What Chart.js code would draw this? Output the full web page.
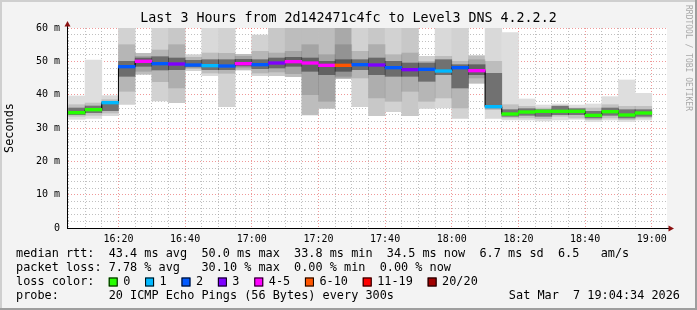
<!DOCTYPE html>
<html>
<head>
<meta charset="utf-8">
<script src="https://cdn.jsdelivr.net/npm/chart.js@4"></script>
<style>
  html, body { margin: 0; padding: 0; background: #f3f3f3; }
</style>
</head>
<body>
<canvas id="smoke" width="697" height="310"></canvas>
<script>
// 5-minute slots (start time of each bar)
const slots = ['16:05','16:10','16:15','16:20','16:25','16:30','16:35','16:40','16:45','16:50',
               '16:55','17:00','17:05','17:10','17:15','17:20','17:25','17:30','17:35','17:40',
               '17:45','17:50','17:55','18:00','18:05','18:10','18:15','18:20','18:25','18:30',
               '18:35','18:40','18:45','18:50','18:55'];
const slotLen = 5;
const rangeStart = '16:04:34';
const rangeEnd = '19:04:34';

// median rtt (ms)
const median = [34.6, 35.5, 37.6, 48.4, 50.0, 49.3, 49.2, 48.9, 48.7, 48.6,
                 49.3, 49.0, 49.5, 49.9, 49.5, 48.8, 48.8, 49.0, 48.9, 48.1,
                 47.5, 47.6, 47.1, 48.1, 47.2, 36.4, 34.2, 34.8, 35.0, 35.0,
                 35.0, 33.8, 34.9, 33.9, 34.5];

// loss colour bin per slot (index into lossLabels)
const lossBin = [0, 0, 1, 2, 4, 2, 3, 2, 1, 2,
                 4, 2, 3, 4, 4, 4, 5, 2, 3, 2,
                 3, 2, 1, 2, 4, 1, 0, 0, 0, 0,
                 0, 0, 0, 0, 0];

// smoke: outer (all pings), middle and inner bands (ms)
const outerLo = [32.6, 32.9, 33.7, 37.1, 46.1, 38.1, 37.6, 47.2, 45.7, 36.4,
                 47.4, 45.7, 45.7, 45.4, 33.9, 35.9, 44.9, 36.4, 33.7, 34.9,
                 33.7, 35.9, 36.0, 32.9, 43.4, 32.9, 32.4, 32.4, 32.1, 32.4,
                 32.6, 31.9, 32.4, 31.9, 32.4];
const outerHi = [39.6, 50.4, 39.7, 60.0, 52.4, 60.0, 60.0, 52.0, 60.0, 60.0,
                 52.1, 57.9, 60.0, 60.0, 60.0, 60.0, 60.0, 60.0, 60.0, 60.0,
                 60.0, 51.5, 60.0, 60.0, 51.7, 60.0, 58.6, 38.7, 36.9, 37.2,
                 36.9, 37.2, 39.4, 44.4, 40.4];
const midLo = [33.5, 33.8, 34.5, 41.0, 47.0, 43.9, 42.0, 47.8, 46.5, 46.4,
               48.0, 46.5, 46.8, 46.3, 40.0, 38.0, 45.5, 45.0, 39.0, 38.0,
               41.0, 38.0, 39.0, 36.0, 45.0, 35.5, 33.0, 33.0, 32.8, 33.5,
               33.0, 32.5, 33.0, 32.5, 33.0];
const midHi = [37.0, 37.5, 38.5, 55.0, 51.5, 53.4, 55.0, 51.2, 52.5, 52.4,
               51.5, 53.0, 52.5, 53.0, 55.0, 52.0, 55.0, 53.0, 55.0, 52.0,
               52.5, 50.0, 51.5, 50.0, 50.5, 50.0, 37.0, 36.5, 36.0, 36.8,
               36.0, 36.0, 37.0, 36.5, 36.5];
const innerLo = [34.0, 34.6, 35.2, 45.5, 48.5, 47.4, 47.5, 48.3, 47.5, 47.5,
                 48.6, 47.8, 48.0, 48.5, 47.0, 46.0, 47.0, 47.5, 46.0, 45.5,
                 45.5, 44.0, 46.0, 42.0, 46.0, 36.0, 33.5, 33.8, 33.5, 34.0,
                 34.0, 33.0, 33.8, 33.0, 33.5];
const innerHi = [36.0, 36.6, 37.8, 50.0, 51.0, 51.4, 51.0, 50.3, 50.5, 50.5,
                 50.6, 50.5, 51.0, 51.2, 51.0, 50.0, 50.5, 50.5, 51.0, 50.0,
                 49.5, 49.5, 50.5, 49.0, 49.0, 46.4, 35.5, 35.8, 35.5, 36.5,
                 35.8, 35.0, 36.0, 35.5, 35.5];

const lossLabels = ['0', '1', '2', '3', '4-5', '6-10', '11-19', '20/20'];
const lossColors = ['#26ff00', '#00b8ff', '#0059ff', '#7e00ff', '#ff00ff', '#ff5500', '#ff0000', '#a10000'];
const smokeShade = ['#dedede', '#d9d9d9', '#d2d2d2', '#c8c8c8', '#bdbdbd', '#a9a9a9'];

const xTickLabels = ['16:20', '16:40', '17:00', '17:20', '17:40', '18:00', '18:20', '18:40', '19:00'];
const yTickLabels = ['0', '10 m', '20 m', '30 m', '40 m', '50 m', '60 m'];

const legendLines = [
  'median rtt:  43.4 ms avg  50.0 ms max  33.8 ms min  34.5 ms now  6.7 ms sd  6.5   am/s',
  'packet loss: 7.78 % avg   30.10 % max  0.00 % min  0.00 % now',
  'loss color:',
  'probe:       20 ICMP Echo Pings (56 Bytes) every 300s'
];
const stamp = 'Sat Mar  7 19:04:34 2026';
const title = 'Last 3 Hours from 2d142471c4fc to Level3 DNS 4.2.2.2';

const mono = 'DejaVu Sans Mono';
const toMin = s => { const p = s.split(':').map(Number); return (p[0] - 16) * 60 + p[1] + (p[2] || 0) / 60; };

const band = (lo, hi, color, order) => ({
  type: 'bar',
  data: slots.map((s, i) => ({ x: toMin(s) + slotLen / 2, y: [lo[i], hi[i]] })),
  backgroundColor: color,
  grouped: false,
  barPercentage: 1,
  categoryPercentage: 1,
  order: order
});

const medianStep = slots.map((s, i) => ({ x: toMin(s), y: median[i] }));
medianStep.push({ x: toMin(slots[slots.length - 1]) + slotLen, y: median[median.length - 1] });

const redGrid = 'rgba(225, 70, 70, 0.55)';
const grayGrid = 'rgba(140, 140, 140, 0.55)';

const decor = {
  id: 'decor',
  beforeDraw(chart) {
    const { ctx, width, height, chartArea: a } = chart;
    ctx.save();
    ctx.fillStyle = '#f3f3f3';
    ctx.fillRect(0, 0, width, height);
    ctx.fillStyle = '#ffffff';
    ctx.fillRect(a.left, a.top, a.right - a.left, a.bottom - a.top);
    ctx.fillStyle = '#cfcfcf';
    ctx.fillRect(0, 0, width, 2);
    ctx.fillRect(0, 0, 2, height);
    ctx.fillStyle = '#9e9e9e';
    ctx.fillRect(0, height - 2, width, 2);
    ctx.fillRect(width - 2, 0, 2, height);
    ctx.restore();
  },
  afterDraw(chart) {
    const { ctx, width, chartArea: a } = chart;
    ctx.save();
    // axis extensions + arrows
    ctx.strokeStyle = '#000';
    ctx.lineWidth = 1;
    ctx.beginPath();
    ctx.moveTo(a.left + 0.5, a.top);
    ctx.lineTo(a.left + 0.5, a.top - 5);
    ctx.moveTo(a.right, a.bottom + 0.5);
    ctx.lineTo(a.right + 2, a.bottom + 0.5);
    ctx.stroke();
    ctx.fillStyle = '#8b1010';
    ctx.beginPath();
    ctx.moveTo(a.left + 0.5, a.top - 7);
    ctx.lineTo(a.left - 2.5, a.top - 1.5);
    ctx.lineTo(a.left + 3.5, a.top - 1.5);
    ctx.closePath();
    ctx.fill();
    ctx.beginPath();
    ctx.moveTo(a.right + 7, a.bottom + 0.5);
    ctx.lineTo(a.right + 1.5, a.bottom - 2.5);
    ctx.lineTo(a.right + 1.5, a.bottom + 3.5);
    ctx.closePath();
    ctx.fill();

    ctx.fillStyle = '#000';
    ctx.textBaseline = 'middle';
    // title
    ctx.font = '13.3px "' + mono + '"';
    ctx.textAlign = 'center';
    ctx.fillText(title, width / 2, 19);

    // y axis title
    ctx.font = '11.85px "' + mono + '"';
    ctx.save();
    ctx.translate(10, 128);
    ctx.rotate(-Math.PI / 2);
    ctx.fillText('Seconds', 0, 0);
    ctx.restore();

    // watermark
    ctx.save();
    ctx.fillStyle = '#a8a8a8';
    ctx.font = '8px "' + mono + '"';
    ctx.textAlign = 'left';
    ctx.translate(688, 5);
    ctx.rotate(Math.PI / 2);
    ctx.fillText('RRDTOOL / TOBI OETIKER', 0, 0);
    ctx.restore();

    // legend
    ctx.font = '11.85px "' + mono + '"';
    ctx.textAlign = 'left';
    const rows = [254, 268, 282, 296];
    legendLines.forEach((t, i) => ctx.fillText(t, 16, rows[i]));
    ctx.textAlign = 'right';
    ctx.fillText(stamp, 680, rows[3]);
    ctx.textAlign = 'left';
    const cw = ctx.measureText('0').width;
    let x = 16 + 13 * cw;
    lossLabels.forEach((lab, i) => {
      ctx.fillStyle = lossColors[i];
      ctx.fillRect(x, rows[2] - 4.5, 9, 9);
      ctx.strokeStyle = '#000';
      ctx.strokeRect(x + 0.5, rows[2] - 4, 8, 8);
      ctx.fillStyle = '#000';
      ctx.fillText(lab, x + 14.5, rows[2]);
      x += 14.5 + ctx.measureText(lab).width + 2 * cw + 0.5;
    });
    ctx.restore();
  }
};

new Chart(document.getElementById('smoke'), {
  type: 'bar',
  data: {
    datasets: [
      {
        type: 'bar',
        data: slots.map((s, i) => ({ x: toMin(s) + slotLen / 2, y: [median[i] - 0.4, median[i] + 0.4] })),
        backgroundColor: lossBin.map(b => lossColors[b]),
        grouped: false, barPercentage: 1, categoryPercentage: 1, order: 0
      },
      {
        type: 'line',
        data: medianStep,
        borderColor: '#000', borderWidth: 1, stepped: true,
        pointRadius: 0, fill: false, order: 1
      },
      band(innerLo, innerHi, 'rgba(0,0,0,0.40)', 2),
      band(midLo, midHi, 'rgba(0,0,0,0.13)', 3),
      band(outerLo, outerHi, lossBin.map(b => smokeShade[b]), 4)
    ]
  },
  options: {
    responsive: false,
    devicePixelRatio: 1,
    animation: false,
    layout: { padding: { top: 28, right: 30, left: 0, bottom: 0 } },
    plugins: { legend: { display: false }, tooltip: { enabled: false } },
    scales: {
      x: {
        type: 'linear',
        min: toMin(rangeStart),
        max: toMin(rangeEnd),
        offset: false,
        z: 1,
        afterBuildTicks: axis => {
          const t = [];
          for (let v = toMin(slots[0]); v <= axis.max; v += slotLen) t.push({ value: v });
          axis.ticks = t;
        },
        afterFit: s => { s.height = 82; },
        ticks: {
          autoSkip: false, maxRotation: 0, padding: 5, color: '#000',
          font: { family: mono, size: 10 },
          callback: v => { const i = xTickLabels.findIndex(l => toMin(l) === v); return i < 0 ? '' : xTickLabels[i]; }
        },
        grid: {
          offset: false, drawTicks: false, lineWidth: 1,
          color: c => (c.tick && xTickLabels.some(l => toMin(l) === c.tick.value)) ? redGrid : grayGrid
        },
        border: { color: '#000', width: 1, dash: [1, 2] }
      },
      y: {
        min: 0, max: 60,
        z: 1,
        afterFit: s => { s.width = 67; },
        ticks: {
          stepSize: 2, autoSkip: false, padding: 7, color: '#000',
          font: { family: mono, size: 10 },
          callback: v => (v % 10 === 0 ? yTickLabels[v / 10] : '')
        },
        grid: {
          drawTicks: false, lineWidth: 1,
          color: c => c.tick.value === 0 ? 'rgba(0,0,0,0)' : (c.tick.value % 10 === 0 ? redGrid : grayGrid)
        },
        border: { color: '#000', width: 1, dash: [1, 2] }
      }
    }
  },
  plugins: [decor]
});
</script>
</body>
</html>
